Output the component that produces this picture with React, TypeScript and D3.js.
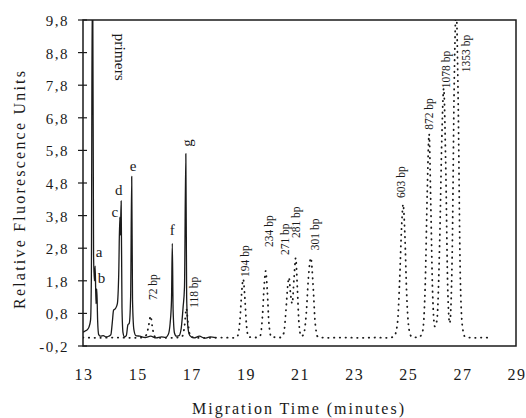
import React, { useEffect, useRef } from 'react';
import * as d3 from 'd3';

// axis ticks
const yTicks = [-0.2, 0.8, 1.8, 2.8, 3.8, 4.8, 5.8, 6.8, 7.8, 8.8, 9.8];
const xTicks = [13, 15, 17, 19, 21, 23, 25, 27, 29];

// sample (solid line) – [minutes, RFU]
const sampleTrace: [number, number][] = [
  [13.0, 0.22], [13.08, 0.26], [13.16, 0.3], [13.22, 0.38], [13.28, 0.6], [13.31, 2.0],
  [13.34, 10.6], [13.36, 10.6], [13.39, 2.6], [13.42, 1.8], [13.45, 2.25], [13.48, 1.1],
  [13.51, 1.55], [13.54, 0.6], [13.58, 0.15], [13.65, 0.1], [13.75, 0.12], [13.85, 0.08],
  [13.95, 0.1], [14.03, 0.15], [14.08, 0.5], [14.13, 0.9], [14.2, 0.95], [14.27, 1.1],
  [14.32, 2.0], [14.36, 3.75], [14.38, 3.2], [14.41, 4.25], [14.44, 1.0], [14.48, 0.2],
  [14.53, 0.08], [14.6, 0.12], [14.66, 0.45], [14.71, 0.5], [14.76, 1.3], [14.8, 5.0],
  [14.83, 1.2], [14.88, 0.3], [14.95, 0.12], [15.1, 0.1], [15.3, 0.06], [15.5, 0.1],
  [15.7, 0.05], [15.9, 0.08], [16.05, 0.06], [16.15, 0.15], [16.22, 0.5], [16.27, 1.2],
  [16.3, 2.95], [16.33, 0.9], [16.38, 0.2], [16.45, 0.1], [16.55, 0.12], [16.63, 0.35],
  [16.7, 1.0], [16.75, 1.6], [16.8, 5.7], [16.83, 1.3], [16.88, 0.35], [16.95, 0.12],
  [17.1, 0.05], [17.3, 0.1], [17.5, 0.04], [17.7, 0.08], [17.9, 0.06],
];

// size ladder (dotted line)
const ladderTrace: [number, number][] = [
  [13.0, 0.06], [13.6, 0.05], [14.2, 0.06], [14.8, 0.05], [15.2, 0.06], [15.35, 0.15],
  [15.43, 0.45], [15.5, 0.72], [15.56, 0.4], [15.64, 0.1], [15.8, 0.05], [16.3, 0.05],
  [16.65, 0.08], [16.75, 0.4], [16.82, 0.95], [16.88, 0.5], [16.97, 0.1], [17.2, 0.05],
  [17.7, 0.05], [18.2, 0.06], [18.6, 0.05], [18.72, 0.12], [18.8, 0.6], [18.86, 1.4],
  [18.92, 1.85], [18.98, 1.3], [19.04, 0.45], [19.12, 0.08], [19.4, 0.06], [19.55, 0.12],
  [19.63, 0.7], [19.69, 1.6], [19.75, 2.1], [19.81, 1.5], [19.87, 0.5], [19.96, 0.08],
  [20.3, 0.06], [20.42, 0.2], [20.5, 0.9], [20.56, 1.6], [20.61, 1.9], [20.67, 1.4],
  [20.73, 1.1], [20.8, 1.9], [20.86, 2.5], [20.92, 1.6], [20.98, 0.5], [21.06, 0.1],
  [21.15, 0.15], [21.25, 0.8], [21.33, 1.9], [21.42, 2.5], [21.5, 1.7], [21.58, 0.5],
  [21.68, 0.08], [22.0, 0.05], [22.6, 0.06], [23.2, 0.05], [23.8, 0.06], [24.3, 0.05],
  [24.5, 0.1], [24.62, 0.5], [24.7, 1.8], [24.77, 3.4], [24.83, 4.15], [24.89, 3.3],
  [24.96, 1.4], [25.05, 0.3], [25.15, 0.08], [25.4, 0.06], [25.55, 0.25], [25.65, 1.8],
  [25.72, 4.5], [25.79, 6.3], [25.85, 4.2], [25.92, 1.4], [26.0, 0.4], [26.08, 0.6],
  [26.18, 3.0], [26.26, 6.2], [26.33, 7.7], [26.4, 5.5], [26.48, 1.5], [26.55, 0.5],
  [26.64, 2.5], [26.72, 8.0], [26.79, 10.2], [26.86, 7.5], [26.94, 2.0], [27.02, 0.4],
  [27.12, 0.08], [27.4, 0.05], [27.8, 0.06], [28.05, 0.05],
];

// peak letters (time, value at label centre)
const letterText = ['a', 'b', 'c', 'd', 'e', 'f'];
const letterTime = [13.59, 13.68, 14.18, 14.32, 14.85, 16.3];
const letterValue = [2.68, 1.89, 3.91, 4.59, 5.32, 3.36];

// rotated labels (time, value at the start of the text)
const bpText = ['72 bp', '118 bp', '194 bp', '234 bp', '271 bp', '281 bp', '301 bp', '603 bp', '872 bp', '1078 bp', '1353 bp'];
const bpTime = [15.59, 17.1, 18.99, 19.87, 20.46, 20.87, 21.57, 24.75, 25.79, 26.41, 27.15];
const bpValue = [1.21, 0.97, 1.92, 2.84, 2.59, 3.11, 2.74, 4.34, 6.43, 7.71, 8.2];

const W = 526;
const H = 418;
const margin = { top: 20, right: 10, bottom: 72, left: 83 };

const locale = d3.formatLocale({ decimal: ',', thousands: '.', grouping: [3], currency: ['', ''], minus: '-' });
const fmt = locale.format('.1f');

const App: React.FC = () => {
  const svgRef = useRef<SVGSVGElement>(null);

  useEffect(() => {
    document.body.style.margin = '0';
    if (!svgRef.current) return;
    const svg = d3.select(svgRef.current);
    svg.selectAll('*').remove();

    const x = d3.scaleLinear().domain([13, 29]).range([margin.left, W - margin.right]);
    const y = d3.scaleLinear().domain([-0.2, 9.8]).range([H - margin.bottom, margin.top]);
    const ink = '#1a1a1a';
    const serif = '"Liberation Serif", "DejaVu Serif", serif';

    svg.append('rect').attr('width', W).attr('height', H).attr('fill', '#fff');

    svg.append('defs').append('clipPath').attr('id', 'plot-clip')
      .append('rect')
      .attr('x', x(13)).attr('y', y(9.8))
      .attr('width', x(29) - x(13)).attr('height', y(-0.2) - y(9.8));

    const line = d3.line<[number, number]>()
      .x(d => x(d[0]))
      .y(d => y(d[1]))
      .curve(d3.curveMonotoneX);

    const plot = svg.append('g').attr('clip-path', 'url(#plot-clip)');

    // ladder – dotted
    plot.append('path')
      .datum(ladderTrace)
      .attr('d', line)
      .attr('fill', 'none')
      .attr('stroke', ink)
      .attr('stroke-width', 1.8)
      .attr('stroke-linecap', 'round')
      .attr('stroke-dasharray', '0.4 5.4');

    // sample – solid
    plot.append('path')
      .datum(sampleTrace)
      .attr('d', line)
      .attr('fill', 'none')
      .attr('stroke', ink)
      .attr('stroke-width', 1.3)
      .attr('stroke-linejoin', 'round');

    // frame
    svg.append('rect')
      .attr('x', x(13)).attr('y', y(9.8))
      .attr('width', x(29) - x(13)).attr('height', y(-0.2) - y(9.8))
      .attr('fill', 'none').attr('stroke', ink).attr('stroke-width', 1.5);

    // y ticks
    const yAxis = svg.append('g');
    yAxis.selectAll('line').data(yTicks).join('line')
      .attr('x1', x(13) - 5).attr('x2', x(13) + 4)
      .attr('y1', d => y(d)).attr('y2', d => y(d))
      .attr('stroke', ink).attr('stroke-width', 1.2);
    yAxis.selectAll('text').data(yTicks).join('text')
      .attr('x', 69).attr('y', d => y(d) + 1)
      .attr('text-anchor', 'end')
      .attr('dominant-baseline', 'central')
      .style('font-family', serif).style('font-size', '15px')
      .style('letter-spacing', '1.5px')
      .attr('fill', ink)
      .text(d => fmt(d));

    // x tick labels
    svg.append('g').selectAll('text').data(xTicks).join('text')
      .attr('x', d => x(d) + 1).attr('y', 380)
      .attr('text-anchor', 'middle')
      .style('font-family', serif).style('font-size', '16px')
      .style('letter-spacing', '1.5px')
      .attr('fill', ink)
      .text(d => String(d));

    // axis titles
    svg.append('text')
      .attr('x', 298).attr('y', 414)
      .attr('text-anchor', 'middle')
      .attr('textLength', 212).attr('lengthAdjust', 'spacing')
      .style('font-family', serif).style('font-size', '16px')
      .attr('fill', ink)
      .text('Migration Time (minutes)');

    svg.append('text')
      .attr('transform', 'translate(19,190) rotate(-90)')
      .attr('text-anchor', 'middle')
      .attr('dominant-baseline', 'central')
      .attr('textLength', 238).attr('lengthAdjust', 'spacing')
      .style('font-family', serif).style('font-size', '16px')
      .attr('fill', ink)
      .text('Relative Fluorescence Units');

    // letters
    svg.append('g').selectAll('text').data(letterText).join('text')
      .attr('x', (_, i) => x(letterTime[i]))
      .attr('y', (_, i) => y(letterValue[i]))
      .attr('text-anchor', 'middle')
      .attr('dominant-baseline', 'central')
      .style('font-family', serif).style('font-size', '15px')
      .attr('fill', ink)
      .text(d => d);

    // g (rotated)
    svg.append('text')
      .attr('transform', `translate(${x(16.83)},${y(6.03)}) rotate(-90)`)
      .attr('text-anchor', 'middle')
      .attr('dominant-baseline', 'central')
      .style('font-family', serif).style('font-size', '15px')
      .attr('fill', ink)
      .text('g');

    // primers
    svg.append('text')
      .attr('transform', `translate(${x(14.38)},${y(8.66)}) rotate(90)`)
      .attr('text-anchor', 'middle')
      .attr('dominant-baseline', 'central')
      .style('font-family', serif).style('font-size', '15.5px')
      .attr('fill', ink)
      .text('primers');

    // bp labels
    svg.append('g').selectAll('text').data(bpText).join('text')
      .attr('transform', (_, i) => `translate(${x(bpTime[i])},${y(bpValue[i])}) rotate(-90)`)
      .attr('text-anchor', 'start')
      .attr('dominant-baseline', 'central')
      .style('font-family', serif).style('font-size', '11.5px')
      .attr('fill', ink)
      .text(d => d);
  }, []);

  return <svg ref={svgRef} width={W} height={H} style={{ display: 'block' }} />;
};

export default App;
